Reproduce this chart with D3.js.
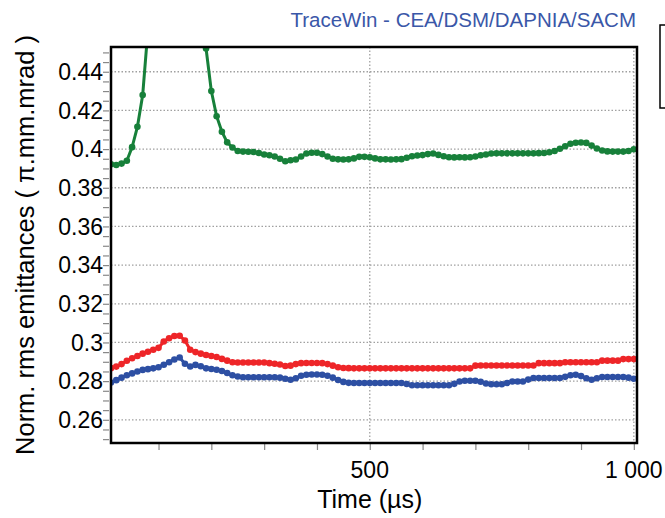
<!DOCTYPE html>
<html>
<head>
<meta charset="utf-8">
<script src="https://cdn.jsdelivr.net/npm/d3@7"></script>
<style>
  body { margin: 0; background: #fff; }
  text { font-family: "Liberation Sans", Arial, sans-serif; }
</style>
</head>
<body>
<div id="chart"></div>
<script>

// time samples (µs)
var times = [10,20,30,40,50,60,70,80,90,100,
    110,120,130,140,150,160,170,180,190,200,
    210,220,230,240,250,260,270,280,290,300,
    310,320,330,340,350,360,370,380,390,400,
    410,420,430,440,450,460,470,480,490,500,
    510,520,530,540,550,560,570,580,590,600,
    610,620,630,640,650,660,670,680,690,700,
    710,720,730,740,750,760,770,780,790,800,
    810,820,830,840,850,860,870,880,890,900,
    910,920,930,940,950,960,970,980,990,1000];

// green curve (goes off the top between ~80 and ~190 us)
var emit_green = [0.3921,0.3918,0.3925,0.3940,0.4010,0.4115,0.4280,0.4620,0.5150,0.5700,
    0.6200,0.6550,0.6700,0.6650,0.6350,0.5850,0.5300,0.4850,0.4520,0.4300,
    0.4170,0.4090,0.4035,0.4008,0.3990,0.3987,0.3986,0.3985,0.3980,0.3972,
    0.3968,0.3962,0.3950,0.3937,0.3942,0.3946,0.3962,0.3977,0.3981,0.3981,
    0.3974,0.3962,0.3950,0.3947,0.3946,0.3947,0.3952,0.3960,0.3960,0.3958,
    0.3952,0.3947,0.3947,0.3946,0.3947,0.3948,0.3955,0.3963,0.3967,0.3969,
    0.3974,0.3977,0.3970,0.3963,0.3958,0.3957,0.3958,0.3957,0.3958,0.3962,
    0.3968,0.3972,0.3977,0.3978,0.3978,0.3978,0.3978,0.3978,0.3978,0.3978,
    0.3978,0.3979,0.3980,0.3984,0.3990,0.4002,0.4015,0.4028,0.4033,0.4034,
    0.4032,0.4018,0.4003,0.3993,0.3988,0.3987,0.3987,0.3987,0.3990,0.3999];

var emit_red = [0.2867,0.2875,0.2888,0.2905,0.2918,0.2930,0.2942,0.2952,0.2962,0.2972,
    0.3005,0.3022,0.3033,0.3035,0.3010,0.2962,0.2950,0.2942,0.2935,0.2930,
    0.2925,0.2915,0.2906,0.2898,0.2896,0.2896,0.2896,0.2896,0.2896,0.2896,
    0.2893,0.2890,0.2886,0.2878,0.2880,0.2888,0.2893,0.2894,0.2894,0.2894,
    0.2893,0.2888,0.2880,0.2872,0.2868,0.2867,0.2866,0.2866,0.2866,0.2866,
    0.2866,0.2866,0.2866,0.2866,0.2866,0.2866,0.2866,0.2866,0.2866,0.2866,
    0.2866,0.2866,0.2866,0.2866,0.2866,0.2866,0.2866,0.2866,0.2866,0.2880,
    0.2881,0.2881,0.2881,0.2881,0.2881,0.2881,0.2881,0.2881,0.2881,0.2881,
    0.2881,0.2893,0.2893,0.2893,0.2893,0.2893,0.2898,0.2898,0.2898,0.2898,
    0.2898,0.2898,0.2898,0.2906,0.2906,0.2906,0.2906,0.2914,0.2914,0.2914];

var emit_blue = [0.2793,0.2805,0.2818,0.2830,0.2840,0.2850,0.2858,0.2862,0.2866,0.2872,
    0.2885,0.2898,0.2912,0.2922,0.2890,0.2876,0.2884,0.2877,0.2866,0.2863,
    0.2859,0.2852,0.2842,0.2830,0.2824,0.2820,0.2820,0.2820,0.2820,0.2820,
    0.2820,0.2820,0.2818,0.2812,0.2807,0.2815,0.2828,0.2833,0.2834,0.2834,
    0.2833,0.2828,0.2818,0.2806,0.2796,0.2791,0.2790,0.2790,0.2790,0.2790,
    0.2790,0.2790,0.2790,0.2790,0.2790,0.2790,0.2785,0.2779,0.2779,0.2779,
    0.2779,0.2779,0.2779,0.2779,0.2779,0.2786,0.2798,0.2802,0.2802,0.2802,
    0.2797,0.2788,0.2784,0.2784,0.2784,0.2790,0.2798,0.2798,0.2798,0.2808,
    0.2816,0.2816,0.2816,0.2816,0.2816,0.2816,0.2822,0.2830,0.2833,0.2826,
    0.2815,0.2807,0.2815,0.2821,0.2821,0.2821,0.2821,0.2821,0.2818,0.2812];

var y_tick_values = [0.26,0.28,0.30,0.32,0.34,0.36,0.38,0.40,0.42,0.44];
var x_tick_values = [100,200,300,400,500,600,700,800,900,1000];
var x_label_values = [500, 1000];
var x_grid_values = [500, 1000];

var series = [
    { name: "blue", values: emit_blue, color: "#2d4fa3" },
    { name: "red", values: emit_red, color: "#ee2528" },
    { name: "green", values: emit_green, color: "#17803a" }
];

var margin = { top: 47, right: 28, bottom: 75, left: 111 },
    width = 665 - margin.left - margin.right,
    height = 518 - margin.top - margin.bottom;

var svg_root = d3.select("#chart").append("svg")
    .attr("width", 665)
    .attr("height", 518);

var svg = svg_root.append("g")
    .attr("transform", "translate(" + margin.left + "," + margin.top + ")");

var x = d3.scaleLinear().domain([10, 1006]).range([0, width]);
var y = d3.scaleLinear().domain([0.248, 0.4528]).range([height, 0]);

svg.append("clipPath").attr("id", "plotClip")
    .append("rect")
    .attr("width", width)
    .attr("height", height);

// horizontal dotted grid
svg.selectAll(".hgrid")
    .data(y_tick_values)
    .enter().append("line")
    .attr("class", "hgrid")
    .attr("x1", 0).attr("x2", width)
    .attr("y1", function (d) { return y(d); })
    .attr("y2", function (d) { return y(d); })
    .style("stroke", "#a0a0a0")
    .style("stroke-width", 1.3)
    .style("stroke-dasharray", "1.5,2");

// vertical dotted grid
svg.selectAll(".vgrid")
    .data(x_grid_values)
    .enter().append("line")
    .attr("class", "vgrid")
    .attr("y1", 0).attr("y2", height)
    .attr("x1", function (d) { return x(d); })
    .attr("x2", function (d) { return x(d); })
    .style("stroke", "#a0a0a0")
    .style("stroke-width", 1.3)
    .style("stroke-dasharray", "1.5,2");

// y axis: minor ticks every 0.005, labels on the 0.02 ones
var yAxis = d3.axisLeft(y)
    .tickValues(d3.range(0.25, 0.4531, 0.005))
    .tickSize(6)
    .tickFormat("");
var gy = svg.append("g").attr("transform", "translate(-2,0)").call(yAxis);
gy.select(".domain").remove();
gy.selectAll(".tick line").style("stroke", "#888").style("stroke-width", 1.2);

svg.selectAll(".yLabel")
    .data(y_tick_values)
    .enter().append("text")
    .attr("class", "yLabel")
    .attr("x", -8)
    .attr("y", function (d) { return y(d); })
    .attr("dy", "0.36em")
    .style("text-anchor", "end")
    .style("font-size", "23px")
    .style("fill", "#000")
    .text(function (d) { return d3.format("")(+d.toFixed(2)); });

// x axis ticks
var xAxis = d3.axisBottom(x)
    .tickValues(x_tick_values)
    .tickSize(6)
    .tickFormat("");
var gx = svg.append("g").attr("transform", "translate(0," + (height + 1) + ")").call(xAxis);
gx.select(".domain").remove();
gx.selectAll(".tick line").style("stroke", "#888").style("stroke-width", 1.2);

svg.selectAll(".xLabel")
    .data(x_label_values)
    .enter().append("text")
    .attr("class", "xLabel")
    .attr("x", function (d) { return x(d); })
    .attr("y", height + 35)
    .style("text-anchor", "middle")
    .style("font-size", "23px")
    .style("fill", "#000")
    .text(function (d) { return d3.format(",")(d).replace(",", " "); });

// series: line + dots
var line = d3.line()
    .x(function (d, i) { return x(times[i]); })
    .y(function (d) { return y(d); });

var plot = svg.append("g").attr("clip-path", "url(#plotClip)");

series.forEach(function (s) {
    plot.append("path")
        .datum(s.values)
        .attr("d", line)
        .style("fill", "none")
        .style("stroke", s.color)
        .style("stroke-width", 3);

    plot.selectAll(".dot-" + s.name)
        .data(s.values)
        .enter().append("circle")
        .attr("class", "dot-" + s.name)
        .attr("cx", function (d, i) { return x(times[i]); })
        .attr("cy", function (d) { return y(d); })
        .attr("r", 3.3)
        .style("fill", s.color);
});

// frame
svg.append("rect")
    .attr("width", width)
    .attr("height", height)
    .style("fill", "none")
    .style("stroke", "#000")
    .style("stroke-width", 2.5);

// axis titles
svg_root.append("text")
    .attr("x", margin.left + x(500))
    .attr("y", 508)
    .style("text-anchor", "middle")
    .style("font-size", "25px")
    .text("Time (µs)");

svg_root.append("text")
    .attr("transform", "translate(34," + 245 + ") rotate(-90)")
    .style("text-anchor", "middle")
    .style("font-size", "25.5px")
    .text("Norm. rms emittances ( π.mm.mrad )");

// header
svg_root.append("text")
    .attr("x", 636)
    .attr("y", 27)
    .style("text-anchor", "end")
    .style("font-size", "20.5px")
    .style("fill", "#3a57a8")
    .text("TraceWin - CEA/DSM/DAPNIA/SACM");

// legend box (cut off at right edge)
svg_root.append("rect")
    .attr("x", 660)
    .attr("y", 25)
    .attr("width", 40)
    .attr("height", 83)
    .style("fill", "#fff")
    .style("stroke", "#000")
    .style("stroke-width", 1.5);

</script>
</body>
</html>
